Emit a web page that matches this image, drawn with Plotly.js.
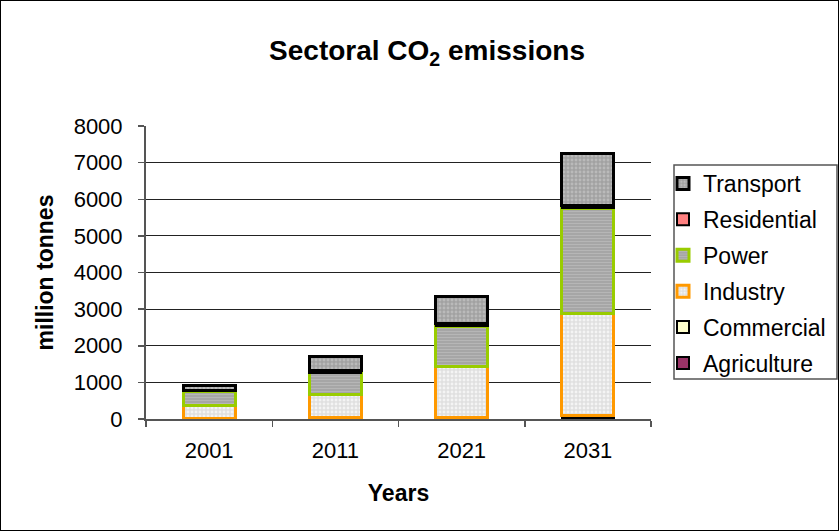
<!DOCTYPE html>
<html>
<head>
<meta charset="utf-8">
<script src="https://cdn.plot.ly/plotly-3.0.1.min.js"></script>
<style>
  html, body { margin: 0; padding: 0; background: #fff; }
  #wrap { position: relative; width: 839px; height: 531px; }
  #chart { width: 839px; height: 531px; }
  #frame { position: absolute; left: 0; top: 0; width: 839px; height: 531px; box-sizing: border-box; border: 1px solid #000; pointer-events: none; }
</style>
</head>
<body>
<div id="wrap"><div id="chart"></div><div id="frame"></div></div>
<script>
const years = ['2001', '2011', '2021', '2031'];
const agriculture = [10, 15, 25, 50];
const commercial = [10, 15, 20, 40];
const industry = [360, 650, 1380, 2800];
const power = [380, 580, 1110, 2860];
const residential = [30, 60, 60, 70];
const transport = [130, 380, 750, 1440];
const yTicks = [0, 1000, 2000, 3000, 4000, 5000, 6000, 7000, 8000];

const FONT = 'Liberation Sans, Arial, sans-serif';

function bar(name, values, rank, fill, lineColor, lineWidth, pattern) {
  const m = { color: fill, line: { color: lineColor, width: lineWidth } };
  if (pattern) m.pattern = pattern;
  return { type: 'bar', name: name, x: years, y: values, marker: m, legendgroup: name, legendrank: rank };
}

const traces = [
  bar('Agriculture', agriculture, 6, '#993366', '#000000', 2),
  bar('Commercial', commercial, 5, '#ffffcc', '#000000', 2),
  bar('Industry', industry, 4, '#e6e6e6', '#ff9900', 3, { shape: '.', bgcolor: '#e0e0e0', fgcolor: '#f4f4f4', size: 4, solidity: 0.4 }),
  bar('Power', power, 3, '#a8a8a8', '#99cc00', 3, { shape: '-', bgcolor: '#a4a4a4', fgcolor: '#b6b6b6', size: 3, solidity: 0.4 }),
  bar('Residential', residential, 2, '#ff8080', '#000000', 2),
  bar('Transport', transport, 1, '#a8a8a8', '#000000', 3, { shape: '.', bgcolor: '#a2a2a2', fgcolor: '#bababa', size: 4, solidity: 0.4 })
];

const layout = {
  width: 839, height: 531,
  margin: { l: 146, r: 188, t: 126, b: 112, autoexpand: false },
  paper_bgcolor: '#ffffff', plot_bgcolor: '#ffffff',
  barmode: 'stack', bargap: 0.59,
  font: { family: FONT, color: '#000', size: 22 },
  title: {
    text: 'Sectoral CO<sub>2</sub> emissions',
    font: { family: FONT, size: 28, weight: 'bold', color: '#000' },
    xref: 'container', x: 0.509, xanchor: 'center',
    yref: 'container', y: 1 - 50 / 531, yanchor: 'middle'
  },
  xaxis: {
    type: 'category',
    showline: true, linecolor: '#555', linewidth: 2,
    ticks: 'outside', ticklen: 6, tickcolor: '#555', tickwidth: 1.5,
    tickson: 'boundaries',
    showgrid: false,
    tickfont: { size: 22 },
    ticklabelstandoff: 11,
    title: { text: 'Years', font: { size: 23, weight: 'bold' }, standoff: 22 }
  },
  yaxis: {
    range: [0, 8000], tickvals: yTicks, ticktext: yTicks.map(String),
    showline: true, linecolor: '#555', linewidth: 2,
    ticks: 'outside', ticklen: 6, tickcolor: '#555', tickwidth: 1.5,
    showgrid: true, gridcolor: '#222', gridwidth: 1,
    zeroline: false,
    tickfont: { size: 22 },
    ticklabelstandoff: 11,
    title: { text: 'million tonnes', font: { size: 23, weight: 'bold' }, standoff: 14 }
  },
  legend: {
    traceorder: 'grouped',
    font: { size: 23 },
    bgcolor: 'rgba(0,0,0,0)', borderwidth: 0,
    tracegroupgap: 3, itemwidth: 30
  },
  shapes: [],
  showlegend: true
};
// legend position in paper coords
const pw = 839 - 146 - 188, ph = 531 - 126 - 112;
layout.legend.x = (663 - 146) / pw;
layout.legend.xanchor = 'left';
layout.legend.xref = 'paper';
layout.legend.y = (531 - 112 - 162) / ph;
layout.legend.yanchor = 'top';
layout.legend.yref = 'paper';
layout.shapes.push({
  type: 'rect', xref: 'paper', yref: 'paper', layer: 'above',
  x0: (674 - 146) / pw, x1: (837 - 146) / pw,
  y0: (531 - 112 - 379) / ph, y1: (531 - 112 - 165) / ph,
  line: { color: '#555', width: 1.5 }, fillcolor: 'rgba(0,0,0,0)'
});

Plotly.newPlot('chart', traces, layout, { displayModeBar: false, staticPlot: true });
</script>
</body>
</html>
